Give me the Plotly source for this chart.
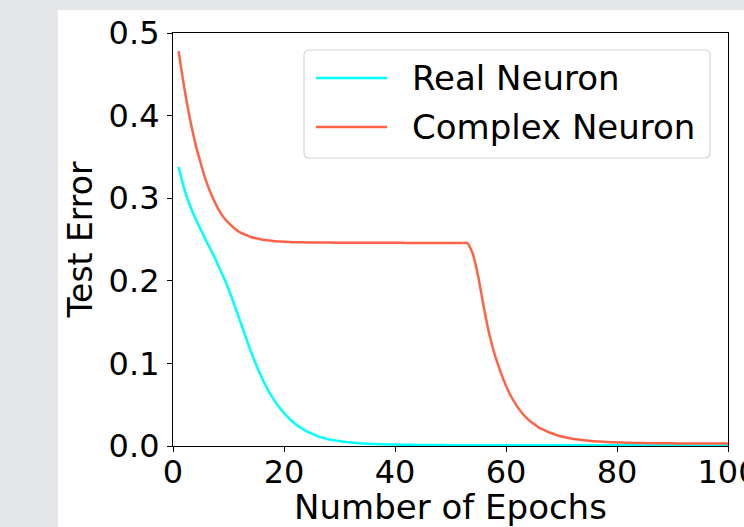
import plotly.graph_objects as go

epochs = list(range(1, 101))

real_neuron = [
    0.338, 0.312, 0.292, 0.276, 0.262, 0.248, 0.235, 0.221, 0.206, 0.190,
    0.172, 0.153, 0.134, 0.115, 0.098, 0.083, 0.069, 0.058, 0.048, 0.040,
    0.033, 0.027, 0.022, 0.018, 0.015, 0.012, 0.010, 0.008, 0.007, 0.006,
    0.005, 0.0042, 0.0036, 0.0031, 0.0027, 0.0024, 0.0022, 0.0020, 0.0018, 0.0017,
    0.0016, 0.0015, 0.0014, 0.0013, 0.0013, 0.0012, 0.0012, 0.0011, 0.0011, 0.0010,
    0.0010, 0.0010, 0.0010, 0.0009, 0.0009, 0.0009, 0.0009, 0.0009, 0.0009, 0.0009,
    0.0009, 0.0008, 0.0008, 0.0008, 0.0008, 0.0008, 0.0008, 0.0008, 0.0008, 0.0008,
    0.0008, 0.0008, 0.0008, 0.0008, 0.0008, 0.0008, 0.0008, 0.0008, 0.0008, 0.0008,
    0.0008, 0.0008, 0.0008, 0.0008, 0.0008, 0.0008, 0.0008, 0.0008, 0.0008, 0.0008,
    0.0008, 0.0008, 0.0008, 0.0008, 0.0008, 0.0008, 0.0008, 0.0008, 0.0008, 0.0008,
]

complex_neuron = [
    0.478, 0.435, 0.398, 0.367, 0.342, 0.320, 0.303, 0.289, 0.278, 0.270,
    0.264, 0.259, 0.256, 0.253, 0.2515, 0.250, 0.249, 0.2483, 0.2477, 0.2472,
    0.2469, 0.2467, 0.2466, 0.2465, 0.2464, 0.2464, 0.2463, 0.2463, 0.2462, 0.2462,
    0.2462, 0.2461, 0.2461, 0.2461, 0.2461, 0.2460, 0.2460, 0.2460, 0.2460, 0.2460,
    0.2460, 0.2459, 0.2459, 0.2459, 0.2459, 0.2459, 0.2459, 0.2459, 0.2458, 0.2458,
    0.2458, 0.2458, 0.2458, 0.233, 0.205, 0.168, 0.135, 0.110, 0.090, 0.073,
    0.059, 0.048, 0.039, 0.032, 0.027, 0.022, 0.019, 0.016, 0.0135, 0.0115,
    0.0100, 0.0088, 0.0078, 0.0070, 0.0063, 0.0058, 0.0053, 0.0049, 0.0046, 0.0043,
    0.0041, 0.0039, 0.0037, 0.0036, 0.0035, 0.0034, 0.0033, 0.0033, 0.0032, 0.0032,
    0.0031, 0.0031, 0.0031, 0.0030, 0.0030, 0.0030, 0.0030, 0.0030, 0.0030, 0.0030,
]

series_names = ["Real Neuron", "Complex Neuron"]
series_colors = ["#00ffff", "#ff6347"]

x_ticks = [0, 20, 40, 60, 80, 100]
y_ticks = [0.0, 0.1, 0.2, 0.3, 0.4, 0.5]
y_tick_labels = ["0.0", "0.1", "0.2", "0.3", "0.4", "0.5"]

FONT = "DejaVu Sans"

# pixel geometry of the plot area
W, H = 744, 527
L, R, T, B = 173, 16, 33, 81
PW, PH = W - L - R, H - T - B


def px(xp):
    return (xp - L) / PW


def py(yp):
    return (H - B - yp) / PH


fig = go.Figure()
for name, color, vals in zip(series_names, series_colors, [real_neuron, complex_neuron]):
    fig.add_trace(go.Scatter(x=epochs, y=vals, mode="lines", name=name,
                             line=dict(color=color, width=2.5, shape="spline", smoothing=0.6),
                             showlegend=False))

axis_common = dict(
    showline=True, linecolor="black", linewidth=1.2, mirror=True,
    ticks="outside", ticklen=5, tickwidth=1.2, tickcolor="black",
    showgrid=False, zeroline=False,
    tickfont=dict(family=FONT, size=32, color="black"),
    automargin=False,
)

fig.update_xaxes(range=[0, 100], tickvals=x_ticks,
                 ticklabeloverflow="allow", ticklabelstandoff=-8,
                 title=dict(text="Number of Epochs", font=dict(family=FONT, size=34, color="black"), standoff=0),
                 **axis_common)
fig.update_yaxes(range=[0, 0.5], tickvals=y_ticks, ticktext=y_tick_labels,
                 ticklabelstandoff=1,
                 title=dict(text="Test Error", font=dict(family=FONT, size=33, color="black"), standoff=6),
                 **axis_common)

# white figure area over page background
fig.add_shape(type="rect", xref="paper", yref="paper",
              x0=px(58), x1=px(760), y0=py(540), y1=py(10),
              fillcolor="white", line=dict(width=0), layer="below")

# legend box (rounded)
bx0, bx1, by0, by1 = px(304), px(710), py(158), py(50)
rx, ry = 5 / PW, 5 / PH
path = (f"M {bx0+rx},{by0} L {bx1-rx},{by0} Q {bx1},{by0} {bx1},{by0+ry} "
        f"L {bx1},{by1-ry} Q {bx1},{by1} {bx1-rx},{by1} "
        f"L {bx0+rx},{by1} Q {bx0},{by1} {bx0},{by1-ry} "
        f"L {bx0},{by0+ry} Q {bx0},{by0} {bx0+rx},{by0} Z")
fig.add_shape(type="path", xref="paper", yref="paper", path=path,
              fillcolor="white", line=dict(color="#d6d6d6", width=1.2))

legend_rows = [78, 127]
for name, color, yrow in zip(series_names, series_colors, legend_rows):
    fig.add_shape(type="line", xref="paper", yref="paper",
                  x0=px(316), x1=px(387), y0=py(yrow), y1=py(yrow),
                  line=dict(color=color, width=2.5))
    fig.add_annotation(xref="paper", yref="paper", x=px(410), y=py(yrow),
                       xanchor="left", yanchor="middle", showarrow=False,
                       text=name, font=dict(family=FONT, size=34, color="black"))

fig.update_layout(
    width=W, height=H,
    margin=dict(l=L, r=R, t=T, b=B),
    paper_bgcolor="#e5e7eb",
    plot_bgcolor="white",
    showlegend=False,
)

fig.write_html("out.html")
